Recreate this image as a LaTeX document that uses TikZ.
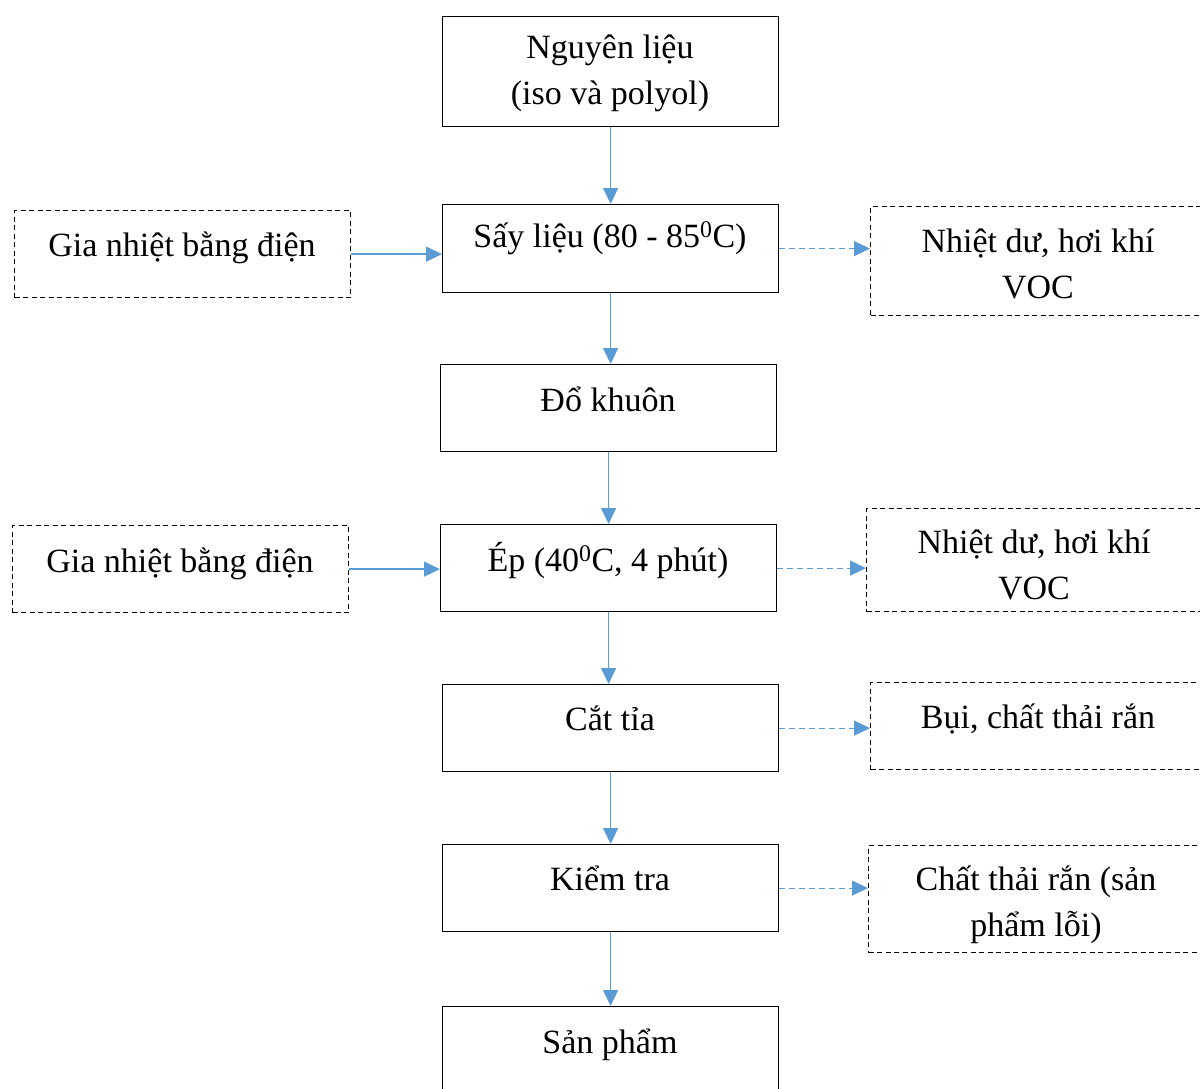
\documentclass[tikz,border=0pt]{standalone}
\usepackage{fontspec}
\setmainfont{Liberation Serif}
\usetikzlibrary{arrows.meta}
\definecolor{flow}{HTML}{5B9BD5}
\begin{document}
\begin{tikzpicture}[x=1pt,y=-1pt,
  box/.style={draw=black, line width=1.2pt, minimum width=336pt, inner sep=0pt, anchor=north west},
  aux/.style={box, dash pattern=on 5pt off 3.5pt},
  txt/.style={font=\fontsize{34}{46}\selectfont, inner sep=0pt, anchor=base, align=center},
  flowarr/.style={draw=flow, line width=1.4pt, -{Triangle[length=16pt,width=15pt]}},
  sidearr/.style={flowarr, line width=1.2pt, dash pattern=on 6pt off 4pt}]
\useasboundingbox (0,0) rectangle (1200,1088);

% main process column
\node[box, minimum height=110pt] (N1) at (442,16) {};
\node[box, minimum height=88pt]  (N2) at (442,204) {};
\node[box, minimum height=87pt]  (N3) at (440,364) {};
\node[box, minimum height=87pt]  (N4) at (440,524) {};
\node[box, minimum height=87pt]  (N5) at (442,684) {};
\node[box, minimum height=87pt]  (N6) at (442,844) {};
\node[box, minimum height=88pt]  (N7) at (442,1006) {};

% multi-line texts are placed by the baseline of their last line
\node[txt] (t1) at (610,104) {Nguyên liệu\\(iso và polyol)};
\node[txt] (t2) at (610,247) {Sấy liệu (80 - 85\textsuperscript{0}C)};
\node[txt] (t3) at (608,411) {Đổ khuôn};
\node[txt] (t4) at (608,571) {Ép (40\textsuperscript{0}C, 4 phút)};
\node[txt] (t5) at (610,730) {Cắt tỉa};
\node[txt] (t6) at (610,890) {Kiểm tra};
\node[txt] (t7) at (610,1053) {Sản phẩm};

% energy inputs
\node[aux, minimum height=87pt] (L1) at (14,210) {};
\node[aux, minimum height=87pt] (L2) at (12,525) {};
\node[txt] (u1) at (182,256) {Gia nhiệt bằng điện};
\node[txt] (u2) at (180,572) {Gia nhiệt bằng điện};

% emissions and waste
\node[aux, minimum height=109pt] (R1) at (870,206) {};
\node[aux, minimum height=103pt] (R2) at (866,508) {};
\node[aux, minimum height=87pt]  (R3) at (870,682) {};
\node[aux, minimum height=107pt] (R4) at (868,845) {};
\node[txt] (v1) at (1038,298) {Nhiệt dư, hơi khí\\VOC};
\node[txt] (v2) at (1034,599) {Nhiệt dư, hơi khí\\VOC};
\node[txt] (v3) at (1038,728) {Bụi, chất thải rắn};
\node[txt] (v4) at (1036,936) {Chất thải rắn (sản\\phẩm lỗi)};

% flow arrows
\draw[flowarr] (N1.south) -- (N1.south |- N2.north);
\draw[flowarr] (N2.south) -- (N2.south |- N3.north);
\draw[flowarr] (N3.south) -- (N3.south |- N4.north);
\draw[flowarr] (N4.south) -- (N4.south |- N5.north);
\draw[flowarr] (N5.south) -- (N5.south |- N6.north);
\draw[flowarr] (N6.south) -- (N6.south |- N7.north);

\draw[flowarr] (L1.east) -- (L1.east -| N2.west);
\draw[flowarr] (L2.east) -- (L2.east -| N4.west);

\draw[sidearr] (N2.east) -- (N2.east -| R1.west);
\draw[sidearr] (N4.east) -- (N4.east -| R2.west);
\draw[sidearr] (N5.east) -- (N5.east -| R3.west);
\draw[sidearr] (N6.east) -- (N6.east -| R4.west);
\end{tikzpicture}
\end{document}
